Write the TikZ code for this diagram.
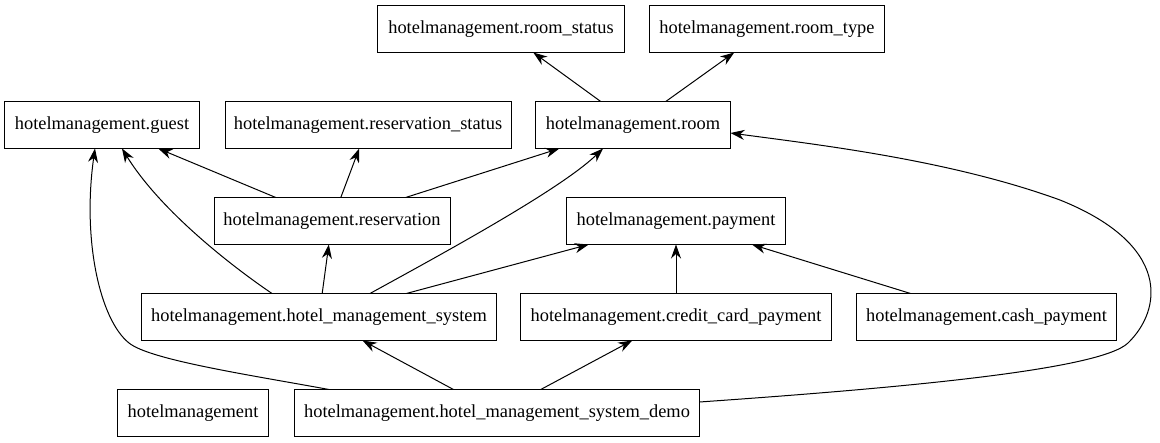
\documentclass[tikz,border=0pt]{standalone}
\usepackage{fontspec}
\setmainfont{Liberation Serif}
\usetikzlibrary{arrows.meta}
\begin{document}
\begin{tikzpicture}[
    x=1pt, y=-1pt,
    >={Stealth[length=14pt, width=10pt, inset=4.5pt]},
    modbox/.style={
        draw=black, fill=white, line width=1pt,
        font=\fontsize{18.4pt}{22pt}\selectfont,
        inner xsep=2pt, inner ysep=0pt, minimum height=47pt,
        outer sep=0pt,
    },
    arr/.style={->, line width=1pt, draw=black},
]
\useasboundingbox (0,0) rectangle (1160,443);

% === Top row ===
\node[modbox, minimum width=247pt] (status) at (501, 29) {hotelmanagement.room\_status};
\node[modbox, minimum width=235pt] (rtype) at (767, 29) {hotelmanagement.room\_type};

% === Second row ===
\node[modbox, minimum width=195pt] (guest) at (102, 125) {hotelmanagement.guest};
\node[modbox, minimum width=286pt] (resstat) at (368, 125) {hotelmanagement.reservation\_status};
\node[modbox, minimum width=195pt] (room) at (633, 125) {hotelmanagement.room};

% === Third row ===
\node[modbox, minimum width=236pt] (resv) at (332, 221) {hotelmanagement.reservation};
\node[modbox, minimum width=219pt] (pay) at (676, 221) {hotelmanagement.payment};

% === Fourth row ===
\node[modbox, minimum width=355pt] (hms) at (319, 317) {hotelmanagement.hotel\_management\_system};
\node[modbox, minimum width=311pt] (ccard) at (676, 317) {hotelmanagement.credit\_card\_payment};
\node[modbox, minimum width=260pt] (cash) at (986.5, 317) {hotelmanagement.cash\_payment};

% === Bottom row ===
\node[modbox, minimum width=151pt] (pkg) at (193, 413) {hotelmanagement};
\node[modbox, minimum width=405pt] (demo) at (497, 413) {hotelmanagement.hotel\_management\_system\_demo};

% === Straight dependencies ===
\draw[arr] (room) -- (status);
\draw[arr] (room) -- (rtype);
\draw[arr] (resv) -- (guest);
\draw[arr] (resv) -- (resstat);
\draw[arr] (resv) -- (room);
\draw[arr] (hms) -- (resv);
\draw[arr] (hms) -- (pay);
\draw[arr] (ccard) -- (pay);
\draw[arr] (cash) -- (pay);
\draw[arr] (demo) -- (hms);
\draw[arr] (demo) -- (ccard);

% === Curved dependencies ===
\draw[arr] ([xshift=-47pt]hms.north)
    .. controls (230,265) and (160,210) .. ([xshift=20pt]guest.south);
\draw[arr] ([xshift=51pt]hms.north)
    .. controls (440,255) and (560,190) .. ([xshift=-30pt]room.south);

% demo -> guest (round the left side)
\draw[arr] ([xshift=-168pt]demo.north)
    .. controls (250,375) and (150,360) .. (129,343)
    .. controls (100,320) and (82,240) .. ([xshift=-7pt]guest.south);

% demo -> room (round the right side)
\draw[arr] ([yshift=11pt]demo.east)
    .. controls (900,388) and (1100,370) .. (1128,343)
    .. controls (1162,310) and (1172,245) .. (1060,200)
    .. controls (950,160) and (820,145) .. ([yshift=-8pt]room.east);

\end{tikzpicture}
\end{document}
